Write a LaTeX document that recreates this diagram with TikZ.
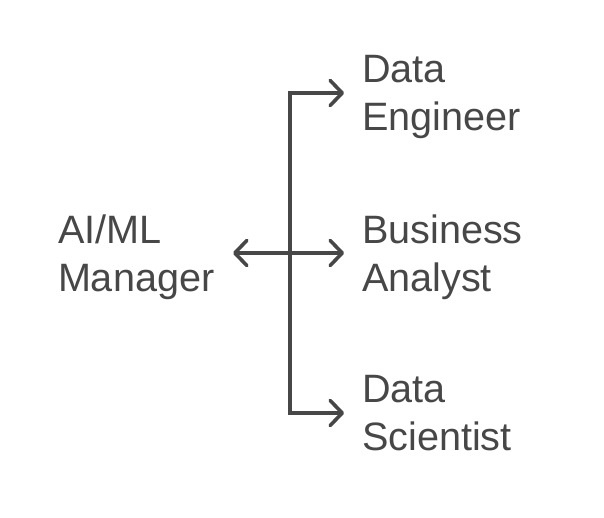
\documentclass[tikz,border=0pt]{standalone}
\usepackage{fontspec}
\setmainfont{Liberation Sans}
\usetikzlibrary{arrows.meta}
\definecolor{ink}{HTML}{474747}
\tikzset{
  lbl/.style={anchor=north west, inner sep=0pt, outer sep=0pt, align=left, text=ink,
    font=\fontsize{39.6}{48}\selectfont},
  conn/.style={draw=ink, line width=3.6pt},
  tipr/.style={-{Straight Barb[length=12pt,width=25pt,round]}},
  tipb/.style={{Straight Barb[length=12pt,width=25pt,round]}-{Straight Barb[length=12pt,width=25pt,round]}}
}
\begin{document}
\begin{tikzpicture}[x=1pt,y=-1pt]
\useasboundingbox (0,0) rectangle (604,518);
\node[lbl] (mgr) at (58,215) {AI/ML\\Manager};
\node[lbl] (de) at (362,55) {Data\\Engineer};
\node[lbl] (ba) at (362,215) {Business\\Analyst};
\node[lbl] (ds) at (362,375) {Data\\Scientist};
\coordinate (hub) at (290,253);
\coordinate (tde) at (344,93);
\coordinate (tba) at (344,253);
\coordinate (tds) at (344,413);
\coordinate (tmgr) at (233,253);
\draw[conn,tipr] (hub) |- (tde);
\draw[conn,tipr] (hub) |- (tds);
\draw[conn,tipb] (tmgr) -- (tba);
\end{tikzpicture}
\end{document}
